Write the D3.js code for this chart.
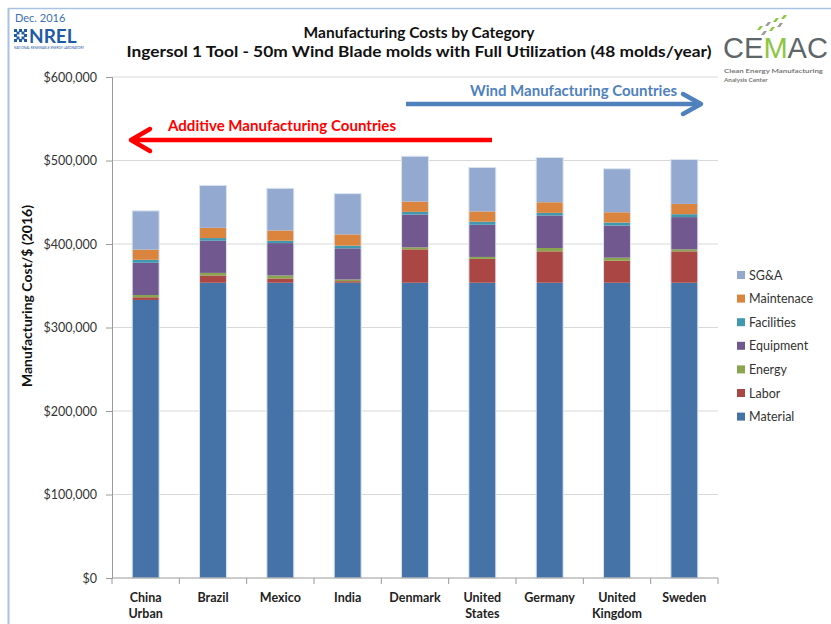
<!DOCTYPE html>
<html><head><meta charset="utf-8">
<script src="https://cdn.jsdelivr.net/npm/d3@7"></script>
<style>body{margin:0;background:#fff}svg{display:block;font-family:Lato,"Liberation Sans",sans-serif}</style>
</head><body><svg id="c" width="831" height="624"></svg>
<script>
const categories = ["China Urban","Brazil","Mexico","India","Denmark","United States","Germany","United Kingdom","Sweden"];
const seriesNames = ["Material","Labor","Energy","Equipment","Facilities","Maintenace","SG&A"];
const material    = [333000,353600,353600,353600,353600,353600,353600,353600,353600];
const labor       = [3200,8700,5100,1900,40000,28500,37600,26400,37600];
const energy      = [2700,3100,3600,2000,2400,2400,4000,3600,2400];
const equipment   = [38600,38500,38800,37300,39300,38500,39000,38500,38600];
const facilities  = [3600,3200,2800,3200,3200,3700,3100,3600,3500];
const maintenance = [12200,12300,12300,13500,12300,12300,12700,12300,12300];
const sga         = [46400,50800,50500,48800,54300,52700,53600,52100,53200];
const yTicks = [0,100000,200000,300000,400000,500000,600000];
const colors = ["#4572A7","#AA4643","#89A54E","#71588F","#4198AF","#DB843D","#93A9CF"];

const seriesValues = [material,labor,energy,equipment,facilities,maintenance,sga];
const table = categories.map((c,i)=>{const o={cat:c};seriesNames.forEach((s,j)=>o[s]=seriesValues[j][i]);return o;});

const svg = d3.select("#c");
const pL=112, pR=718, pT=77, pB=578;
const x = d3.scaleBand().domain(categories).range([pL,pR]).paddingInner(0.6).paddingOuter(0.3);
const y = d3.scaleLinear().domain([0,600000]).range([pB,pT]);

// slide border
svg.append("line").attr("x1",8).attr("x2",831).attr("y1",8.5).attr("y2",8.5).attr("stroke","#a9c2e3").attr("stroke-width",1.5);
svg.append("line").attr("x1",8.5).attr("x2",8.5).attr("y1",8).attr("y2",624).attr("stroke","#a9c2e3").attr("stroke-width",2);

// gridlines
svg.append("g").selectAll("line").data(yTicks.filter(d=>d>0)).join("line")
  .attr("x1",pL).attr("x2",pR).attr("y1",d=>y(d)).attr("y2",d=>y(d))
  .attr("stroke","#d9d9d9").attr("stroke-width",1.2);

// stacked bars
const stack = d3.stack().keys(seriesNames)(table);
svg.append("g").selectAll("g").data(stack).join("g").attr("fill",(d,i)=>colors[i])
  .selectAll("rect").data(d=>d).join("rect")
  .attr("x",d=>x(d.data.cat)).attr("width",x.bandwidth())
  .attr("y",d=>y(d[1])).attr("height",d=>y(d[0])-y(d[1]));
svg.append("g").selectAll("rect").data(table).join("rect")
  .attr("x",d=>x(d.cat)).attr("width",x.bandwidth())
  .attr("y",d=>y(d3.sum(seriesNames,s=>d[s]))).attr("height",d=>pB-y(d3.sum(seriesNames,s=>d[s])))
  .attr("fill","none").attr("stroke","#dbe4f1").attr("stroke-width",1);

// y axis
const yAxis = d3.axisLeft(y).tickValues(yTicks).tickSize(6).tickPadding(9).tickFormat(d=>"$"+d3.format(",")(d));
const ga = svg.append("g").attr("transform",`translate(${pL},0)`).call(yAxis);
ga.select(".domain").attr("stroke","#9a9a9a");
ga.selectAll(".tick line").attr("stroke","#9a9a9a");
ga.selectAll("text").attr("font-size",12.5).attr("fill","#333").attr("font-family","Lato");

// x axis
const xg = svg.append("g").attr("transform",`translate(0,${pB})`);
xg.append("line").attr("x1",pL).attr("x2",pR).attr("stroke","#9a9a9a");
const step = x.step();
xg.selectAll("line.t").data(d3.range(categories.length+1)).join("line").attr("class","t")
  .attr("x1",i=>pL+i*step).attr("x2",i=>pL+i*step).attr("y1",0).attr("y2",6).attr("stroke","#9a9a9a");
const labels = {"China Urban":["China","Urban"],"United States":["United","States"],"United Kingdom":["United","Kingdom"]};
xg.selectAll("text").data(categories).join("text")
  .attr("x",d=>x(d)+x.bandwidth()/2).attr("y",24).attr("text-anchor","middle")
  .attr("font-size",12.5).attr("font-weight","bold").attr("fill","#222")
  .each(function(d){const l=labels[d]||[d];const t=d3.select(this);
    l.forEach((s,i)=>t.append("tspan").attr("x",x(d)+x.bandwidth()/2).attr("dy",i?16:0).text(s));});

// y title
svg.append("text").attr("transform","translate(32,296) rotate(-90)").attr("text-anchor","middle")
  .attr("font-size",14).attr("font-weight","bold").attr("fill","#111").text("Manufacturing Cost/$ (2016)");

// titles
svg.append("text").attr("x",419).attr("y",38).attr("text-anchor","middle").attr("font-size",15.5).attr("font-weight","bold").attr("fill","#111").text("Manufacturing Costs by Category");
svg.append("text").attr("x",419).attr("y",57).attr("text-anchor","middle").attr("font-size",15.5).attr("font-weight","bold").attr("fill","#111")
  .attr("textLength",585).attr("lengthAdjust","spacingAndGlyphs")
  .text("Ingersol 1 Tool - 50m Wind Blade molds with Full Utilization (48 molds/year)");

// legend
const leg = svg.append("g");
const order = seriesNames.slice().reverse();
order.forEach((s,i)=>{
  const yy = 275 + i*23.6;
  leg.append("rect").attr("x",737).attr("y",yy-4).attr("width",8).attr("height",8).attr("fill",colors[seriesNames.indexOf(s)]);
  leg.append("text").attr("x",749).attr("y",yy+4.5).attr("font-size",12.5).attr("fill","#333").text(s);
});

// arrows
svg.append("line").attr("x1",492).attr("x2",134).attr("y1",140).attr("y2",140).attr("stroke","#ff0000").attr("stroke-width",4.5);
svg.append("path").attr("d","M150,129 L131,140 L150,151").attr("fill","none").attr("stroke","#ff0000").attr("stroke-width",4.5).attr("stroke-linecap","round").attr("stroke-linejoin","round");
svg.append("text").attr("x",168).attr("y",131).attr("font-size",14.5).attr("font-weight","bold").attr("fill","#ff0000")
  .attr("textLength",228).attr("lengthAdjust","spacingAndGlyphs").text("Additive Manufacturing Countries");
svg.append("line").attr("x1",406).attr("x2",699).attr("y1",104).attr("y2",104).attr("stroke","#4f81bd").attr("stroke-width",4.5);
svg.append("path").attr("d","M683,94 L701,104 L683,114").attr("fill","none").attr("stroke","#4f81bd").attr("stroke-width",4.5).attr("stroke-linecap","round").attr("stroke-linejoin","round");
svg.append("text").attr("x",470).attr("y",96).attr("font-size",14.5).attr("font-weight","bold").attr("fill","#4f81bd")
  .attr("textLength",207).attr("lengthAdjust","spacingAndGlyphs").text("Wind Manufacturing Countries");

// NREL logo
svg.append("text").attr("x",15).attr("y",22).attr("font-size",11).attr("fill","#3b6fb6").text("Dec. 2016");
const dots = svg.append("g").attr("fill","#1f5aa6");
[[0,0],[5,0],[10,0],[0,5],[10,5],[0,10],[5,10],[10,10],[2.5,2.5],[7.5,2.5],[2.5,7.5],[7.5,7.5]].forEach(p=>dots.append("rect").attr("x",14+p[0]).attr("y",29+p[1]).attr("width",3).attr("height",3));
svg.append("text").attr("x",29).attr("y",43).attr("font-size",19).attr("font-weight","bold").attr("fill","#1f5aa6").text("NREL");
svg.append("text").attr("x",14).attr("y",49).attr("font-size",3.2).attr("fill","#1f5aa6").text("NATIONAL RENEWABLE ENERGY LABORATORY");

// CEMAC logo
const cm = svg.append("g");
[[757,30,"#8dc63f"],[765,26,"#9a9a9a"],[773,22,"#8dc63f"],[761,35,"#9a9a9a"],[769,31,"#8dc63f"],[777,27,"#9a9a9a"],[781,19,"#8dc63f"]].forEach(p=>
  cm.append("path").attr("d",`M${p[0]},${p[1]} l3,-4 l3,0 l-3,4 z`).attr("fill",p[2]));
const ct = cm.append("text").attr("x",723).attr("y",58).attr("font-size",30).attr("fill","#5f6669")
  .attr("font-family","'Liberation Sans',sans-serif").attr("textLength",105).attr("lengthAdjust","spacingAndGlyphs");
ct.append("tspan").text("CE"); ct.append("tspan").attr("fill","#8dc63f").text("M"); ct.append("tspan").text("AC");
cm.append("text").attr("x",724).attr("y",73).attr("font-size",6.3).attr("font-weight","bold").attr("fill","#777")
  .attr("textLength",99).attr("lengthAdjust","spacingAndGlyphs").text("Clean Energy Manufacturing");
cm.append("text").attr("x",724).attr("y",82).attr("font-size",6.3).attr("font-weight","bold").attr("fill","#777").text("Analysis Center");
</script></body></html>
